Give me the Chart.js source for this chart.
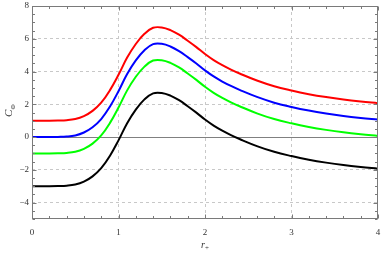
<!DOCTYPE html>
<html>
<head>
<meta charset="utf-8">
<script src="https://cdn.jsdelivr.net/npm/chart.js@4.4.1/dist/chart.umd.min.js"></script>
<style>
    html, body { margin: 0; padding: 0; background: #fff; }
</style>
</head>
<body>
<canvas id="chart" width="382" height="253"></canvas>
<script>
// r_+ sample positions
const rPlus = [0, 0.2, 0.3, 0.4, 0.5, 0.6, 0.7, 0.8, 0.9, 1.0, 1.1, 1.2, 1.3, 1.4, 1.5,
    1.6, 1.7, 1.8, 1.9, 2.0, 2.1, 2.2, 2.3, 2.4, 2.6, 2.8, 3.0, 3.2, 3.4, 3.6, 3.8, 4.0];

const redCurve = [1.0, 1.0, 1.01, 1.03, 1.1, 1.28, 1.6, 2.1, 2.85, 3.8, 4.85, 5.68, 6.3, 6.67, 6.69,
    6.53, 6.25, 5.88, 5.49, 5.07, 4.7, 4.39, 4.12, 3.88, 3.45, 3.1, 2.84, 2.62, 2.44, 2.29, 2.17, 2.07];
const blueCurve = [0.0, 0.0, 0.01, 0.03, 0.1, 0.28, 0.6, 1.1, 1.85, 2.8, 3.85, 4.68, 5.3, 5.67, 5.69,
    5.53, 5.25, 4.88, 4.49, 4.07, 3.7, 3.39, 3.12, 2.88, 2.45, 2.1, 1.84, 1.62, 1.44, 1.29, 1.17, 1.07];
const greenCurve = [-1.0, -1.0, -0.99, -0.97, -0.9, -0.72, -0.4, 0.1, 0.85, 1.8, 2.85, 3.68, 4.3, 4.67, 4.69,
    4.53, 4.25, 3.88, 3.49, 3.07, 2.7, 2.39, 2.12, 1.88, 1.45, 1.1, 0.84, 0.62, 0.44, 0.29, 0.17, 0.07];
const blackCurve = [-3.0, -3.0, -2.99, -2.97, -2.9, -2.72, -2.4, -1.9, -1.15, -0.2, 0.85, 1.68, 2.3, 2.67, 2.69,
    2.53, 2.25, 1.88, 1.49, 1.07, 0.7, 0.39, 0.12, -0.12, -0.55, -0.9, -1.16, -1.38, -1.56, -1.71, -1.83, -1.93];

const xTicks = [0, 1, 2, 3, 4];
const yTicks = [-4, -2, 0, 2, 4, 6, 8];

const FONT = "'Liberation Serif', 'DejaVu Serif', serif";

const toPoints = ys => ys.map((y, i) => ({ x: rPlus[i], y }));

const series = (data, color) => ({
    data: toPoints(data),
    borderColor: color,
    borderWidth: 2,
    pointRadius: 0,
    fill: false,
    tension: 0.4
});

const minus = v => String(v).replace('-', '\u2212');

// frame with inward ticks, zero line and axis titles (Mathematica style)
const framePlugin = {
    id: 'frame',
    beforeDatasetsDraw(chart) {
        const { ctx, chartArea: a, scales: { y } } = chart;
        const y0 = Math.round(y.getPixelForValue(0)) + 0.5;
        ctx.save();
        ctx.strokeStyle = '#808080';
        ctx.lineWidth = 1;
        ctx.beginPath();
        ctx.moveTo(a.left, y0);
        ctx.lineTo(a.right, y0);
        ctx.stroke();
        ctx.restore();
    },
    afterDraw(chart) {
        const { ctx, chartArea: a, scales: { x, y } } = chart;
        ctx.save();
        ctx.strokeStyle = '#7a7a7a';
        ctx.lineWidth = 1;
        const L = Math.round(a.left) + 0.5, R = Math.round(a.right) - 0.5;
        const T = Math.round(a.top) + 0.5, B = Math.round(a.bottom) - 0.5;
        ctx.strokeRect(L, T, R - L, B - T);

        ctx.beginPath();
        for (let k = 0; k <= 20; k++) {
            const v = k * 0.2;
            const len = k % 5 === 0 ? 4 : 2.5;
            const px = Math.round(x.getPixelForValue(v)) + 0.5;
            ctx.moveTo(px, B); ctx.lineTo(px, B - len);
            ctx.moveTo(px, T); ctx.lineTo(px, T + len);
        }
        for (let k = 0; k <= 26; k++) {
            const v = -5 + k * 0.5;
            const len = Number.isInteger(v) && v % 2 === 0 ? 4 : 2.5;
            const py = Math.round(y.getPixelForValue(v)) + 0.5;
            ctx.moveTo(L, py); ctx.lineTo(L + len, py);
            ctx.moveTo(R, py); ctx.lineTo(R - len, py);
        }
        ctx.stroke();

        // axis titles
        ctx.fillStyle = '#333';
        ctx.textBaseline = 'alphabetic';
        ctx.font = `italic 10px ${FONT}`;
        const cx = (a.left + a.right) / 2;
        ctx.fillText('r', cx - 4, 248);
        ctx.font = `7px ${FONT}`;
        ctx.fillText('+', cx, 250);

        ctx.translate(12, 117);
        ctx.rotate(-Math.PI / 2);
        ctx.font = `italic 11px ${FONT}`;
        ctx.fillText('C', 0, 0);
        ctx.font = `7px ${FONT}`;
        ctx.fillText('\u03A6', 7.5, 2.5);
        ctx.restore();
    }
};

new Chart(document.getElementById('chart'), {
    type: 'line',
    data: {
        datasets: [
            series(blackCurve, '#000000'),
            series(greenCurve, '#00ff00'),
            series(blueCurve, '#0000ff'),
            series(redCurve, '#ff0000')
        ]
    },
    options: {
        responsive: false,
        animation: false,
        devicePixelRatio: 1,
        layout: { padding: { left: 0, right: 4, top: 6, bottom: 0 } },
        plugins: {
            legend: { display: false },
            tooltip: { enabled: false }
        },
        scales: {
            x: {
                type: 'linear',
                min: 0,
                max: 4,
                afterBuildTicks: s => { s.ticks = xTicks.map(v => ({ value: v })); },
                afterFit: s => {
                    s.height = 34;
                    s.paddingLeft = 0;
                    s.paddingRight = 0;
                },
                grid: {
                    drawTicks: false,
                    color: c => (c.tick && c.tick.value > 0 && c.tick.value < 4) ? '#c8c8c8' : 'rgba(0,0,0,0)'
                },
                border: { display: false, dash: [3, 3] },
                ticks: {
                    padding: 8,
                    maxRotation: 0,
                    color: '#333',
                    font: { family: FONT, size: 9 },
                    callback: v => minus(v)
                }
            },
            y: {
                min: -5,
                max: 8,
                afterBuildTicks: s => { s.ticks = yTicks.map(v => ({ value: v })); },
                afterFit: s => {
                    s.width = 32;
                    s.paddingTop = 0;
                    s.paddingBottom = 0;
                },
                grid: {
                    drawTicks: false,
                    color: c => (c.tick && c.tick.value !== 0 && c.tick.value < 8) ? '#c8c8c8' : 'rgba(0,0,0,0)'
                },
                border: { display: false, dash: [3, 3] },
                ticks: {
                    padding: 3,
                    color: '#333',
                    font: { family: FONT, size: 9 },
                    callback: v => minus(v)
                }
            }
        }
    },
    plugins: [framePlugin]
});
</script>
</body>
</html>
